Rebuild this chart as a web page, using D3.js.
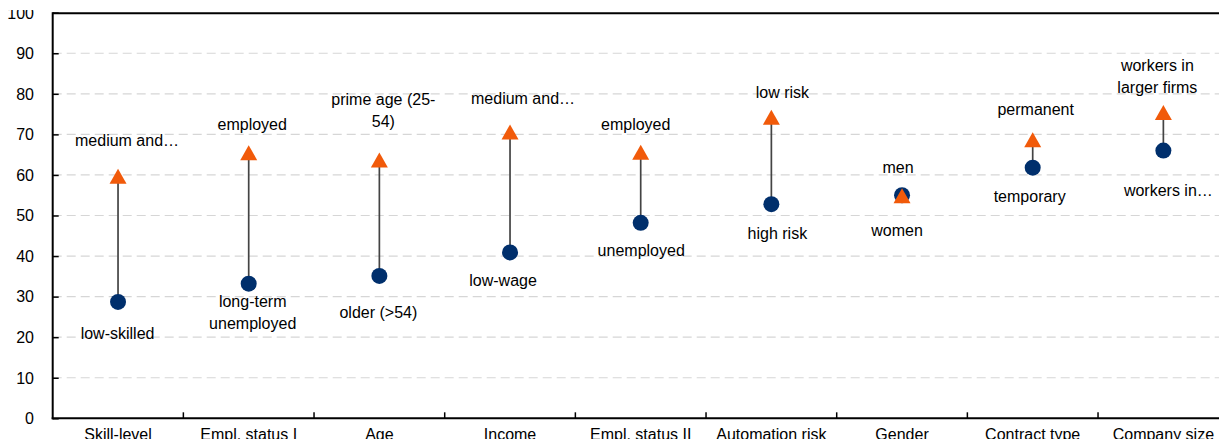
<!DOCTYPE html>
<html>
<head>
<meta charset="utf-8">
<script src="https://cdn.jsdelivr.net/npm/d3@7"></script>
<style>
  html, body { margin: 0; padding: 0; background: #fff; overflow: hidden; }
  svg { display: block; }
  text { font-family: "Liberation Sans", Arial, sans-serif; font-size: 16px; fill: #000; }
</style>
</head>
<body>
<svg id="chart" width="1219" height="439"></svg>
<script>
// ---- data ----
const categories = ["Skill-level", "Empl. status I", "Age", "Income", "Empl. status II",
  "Automation risk", "Gender", "Contract type", "Company size"];
const lowValues  = [28.7, 33.2, 35.1, 40.9, 48.2, 52.8, 55.0, 61.8, 66.0];
const highValues = [59.7, 65.5, 63.7, 70.6, 65.6, 74.2, 54.9, 68.7, 75.4];
const lowLabels  = [["low-skilled"], ["long-term", "unemployed"], ["older (>54)"], ["low-wage"],
  ["unemployed"], ["high risk"], ["women"], ["temporary"], ["workers in…"]];
const highLabels = [["medium and…"], ["employed"], ["prime age (25-", "54)"], ["medium and…"],
  ["employed"], ["low risk"], ["men"], ["permanent"], ["workers in", "larger firms"]];
const yTicks = [0, 10, 20, 30, 40, 50, 60, 70, 80, 90, 100];

// ---- layout (label nudges relative to markers, px) ----
const highNudgeX = [9, 3.5, 4, 13, -5, 11, -4, 3, -6];
const highNudgeY = [-35.6, -27.8, -39, -33.5, -27.5, -25.2, -28.2, -30.5, -25.2];
const lowNudgeX  = [-0.5, 4, -1, -7, 0.5, 6, -5, -3, 5];
const lowNudgeY  = [31.6, 18, 36.3, 28.4, 28, 29.7, 35, 28.3, 40];
const lineH = 22;

const svg = d3.select("#chart");
const pLeft = 52.7, pRight = 1228.7, pTop = 12.7, pBottom = 418.3;

const x = d3.scaleBand().domain(categories).range([pLeft, pRight]).padding(0);
const y = d3.scaleLinear().domain([0, 100]).range([pBottom, pTop]);

// gridlines
svg.append("g").selectAll("line").data(yTicks.filter(d => d > 0 && d < 100)).join("line")
  .attr("x1", pLeft).attr("x2", pRight)
  .attr("y1", d => y(d)).attr("y2", d => y(d))
  .attr("stroke", "#d6d6d6").attr("stroke-width", 1.2)
  .attr("stroke-dasharray", "9,5");

// y axis ticks
const yAxis = d3.axisRight(y).tickValues(yTicks).tickSize(6).tickFormat("");
const gy = svg.append("g").attr("transform", `translate(${pLeft},0)`).call(yAxis);
gy.select(".domain").remove();
gy.selectAll(".tick line").attr("stroke", "#000").attr("stroke-width", 1.5);

// y labels (clipped like the source)
svg.append("clipPath").attr("id", "ylabClip").append("rect")
  .attr("x", 0).attr("y", 10).attr("width", 50).attr("height", 430);
svg.append("g").attr("clip-path", "url(#ylabClip)")
  .selectAll("text").data(yTicks).join("text")
  .attr("x", 34).attr("y", d => y(d) + 5.8)
  .attr("text-anchor", "end")
  .text(d => d);

// frame lines
svg.append("line").attr("x1", pLeft).attr("x2", pRight).attr("y1", 13.3).attr("y2", 13.3)
  .attr("stroke", "#000").attr("stroke-width", 2);
svg.append("line").attr("x1", pLeft).attr("x2", pLeft).attr("y1", 12.3).attr("y2", pBottom + 1)
  .attr("stroke", "#000").attr("stroke-width", 2);

// x axis
const gx = svg.append("g").attr("transform", `translate(0,${pBottom})`);
gx.append("line").attr("x1", pLeft - 1).attr("x2", pRight).attr("stroke", "#000").attr("stroke-width", 2);
gx.selectAll("line.tk").data(categories.slice(1)).join("line").attr("class", "tk")
  .attr("x1", d => x(d)).attr("x2", d => x(d)).attr("y1", 0).attr("y2", -6)
  .attr("stroke", "#000").attr("stroke-width", 1.5);
svg.append("g").selectAll("text").data(categories).join("text")
  .attr("x", d => x(d) + x.bandwidth() / 2).attr("y", 440)
  .attr("text-anchor", "middle").text(d => d);

const cx = i => x(categories[i]) + x.bandwidth() / 2;
const idx = d3.range(categories.length);

// connectors
svg.append("g").selectAll("line").data(idx).join("line")
  .attr("x1", cx).attr("x2", cx)
  .attr("y1", i => y(lowValues[i])).attr("y2", i => y(highValues[i]))
  .attr("stroke", "#444").attr("stroke-width", 1.7);

// circles (low)
svg.append("g").selectAll("circle").data(idx).join("circle")
  .attr("cx", cx).attr("cy", i => y(lowValues[i])).attr("r", 8)
  .attr("fill", "#002F6C");

// triangles (high)
const tw = 17, th = 15;
svg.append("g").selectAll("path").data(idx).join("path")
  .attr("d", i => {
    const px = cx(i), py = y(highValues[i]);
    return `M${px},${py - th / 2}L${px + tw / 2},${py + th / 2}L${px - tw / 2},${py + th / 2}Z`;
  })
  .attr("fill", "#F15A0A");

// high labels
const hl = svg.append("g");
idx.forEach(i => {
  const lines = highLabels[i];
  const baseY = y(highValues[i]) + highNudgeY[i] + 5.6;
  const t = hl.append("text").attr("text-anchor", "middle");
  lines.forEach((ln, k) => {
    t.append("tspan").attr("x", cx(i) + highNudgeX[i])
      .attr("y", baseY - (lines.length - 1 - k) * lineH).text(ln);
  });
});

// low labels
const ll = svg.append("g");
idx.forEach(i => {
  const lines = lowLabels[i];
  const baseY = y(lowValues[i]) + lowNudgeY[i] + 5.6;
  const t = ll.append("text").attr("text-anchor", "middle");
  lines.forEach((ln, k) => {
    t.append("tspan").attr("x", cx(i) + lowNudgeX[i])
      .attr("y", baseY + k * lineH).text(ln);
  });
});
</script>
</body>
</html>
